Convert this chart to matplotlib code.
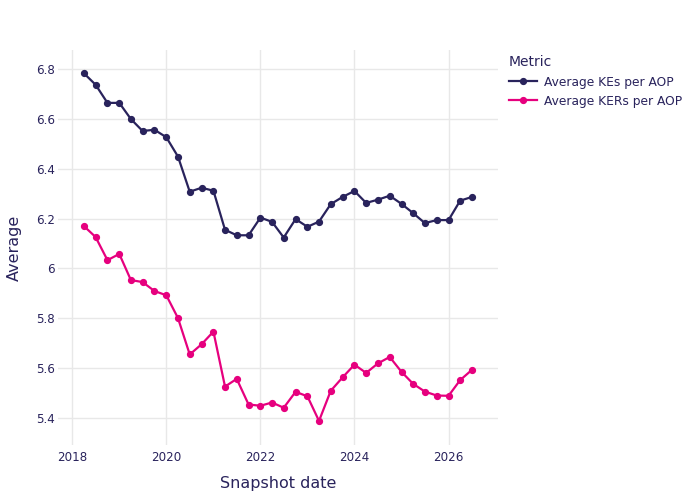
import matplotlib
matplotlib.use("Agg")
import matplotlib.pyplot as plt
import matplotlib.dates as mdates
from matplotlib.ticker import FuncFormatter, FixedLocator
import pandas as pd

# quarterly snapshots, 2018-04 .. 2026-07
dates = pd.date_range("2018-04-01", "2026-07-01", freq="QS")

avg_kes = [6.784, 6.738, 6.665, 6.665, 6.600, 6.552, 6.557, 6.527, 6.449, 6.308,
           6.324, 6.312, 6.155, 6.133, 6.133, 6.204, 6.187, 6.124, 6.198, 6.167,
           6.188, 6.258, 6.287, 6.311, 6.263, 6.276, 6.292, 6.259, 6.222, 6.182,
           6.194, 6.194, 6.272, 6.287]

avg_kers = [6.170, 6.126, 6.033, 6.058, 5.953, 5.945, 5.909, 5.892, 5.800, 5.654,
            5.695, 5.746, 5.525, 5.556, 5.453, 5.448, 5.461, 5.440, 5.504, 5.486,
            5.387, 5.508, 5.562, 5.613, 5.580, 5.618, 5.644, 5.584, 5.536, 5.505,
            5.489, 5.488, 5.551, 5.592]

series_names = ["Average KEs per AOP", "Average KERs per AOP"]
colors = ["#29235c", "#e6007e"]
text_col = "#29235c"
grid_col = "#e8e8e8"

plt.rcParams['font.family'] = ['DejaVu Sans']

fig = plt.figure(figsize=(7, 5), dpi=100)
ax = fig.add_axes([58/700, 1 - 445/500, 440/700, 395/500])

for vals, name, c in zip([avg_kes, avg_kers], series_names, colors):
    ax.plot(dates, vals, '-o', color=c, lw=1.6, ms=4.2, label=name, zorder=3)

base = mdates.date2num(pd.Timestamp("2018-01-01"))
ax.set_xlim(base - 111, base + 3306)
ax.set_ylim(5.2903, 6.8775)

years = [2018, 2020, 2022, 2024, 2026]
ax.xaxis.set_major_locator(FixedLocator([mdates.date2num(pd.Timestamp(f"{y}-01-01")) for y in years]))
ax.xaxis.set_major_formatter(FuncFormatter(lambda v, p: mdates.num2date(v).strftime("%Y")))
ax.yaxis.set_major_locator(FixedLocator([5.4, 5.6, 5.8, 6.0, 6.2, 6.4, 6.6, 6.8]))
ax.yaxis.set_major_formatter(FuncFormatter(lambda v, p: f"{v:g}"))

ax.grid(True, color=grid_col, lw=1)
ax.set_axisbelow(True)
for s in ax.spines.values():
    s.set_visible(False)
ax.tick_params(length=0, labelsize=8.6, colors=text_col)
ax.tick_params(axis='y', pad=2)
ax.tick_params(axis='x', pad=4)

ax.set_xlabel("Snapshot date", fontsize=11.5, color=text_col, labelpad=9)
ax.set_ylabel("Average", fontsize=11.5, color=text_col, labelpad=10)

leg = ax.legend(title="Metric", loc="upper left", bbox_to_anchor=(1.005, 1.008),
                frameon=False, fontsize=8.8, title_fontsize=10,
                handlelength=2.35, handletextpad=0.55, labelspacing=0.5,
                borderaxespad=0.3)
leg._legend_box.align = "left"
leg.get_title().set_color(text_col)
for t in leg.get_texts():
    t.set_color(text_col)

fig.savefig("out.png", dpi=100, facecolor="white")
